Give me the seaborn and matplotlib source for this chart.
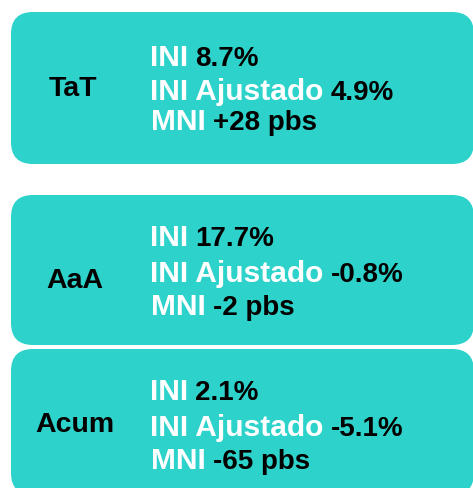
import matplotlib
matplotlib.use("Agg")
import matplotlib.pyplot as plt
from matplotlib.patches import FancyBboxPatch
import seaborn as sns

# datos de las tarjetas
periodos = ["TaT", "AaA", "Acum"]
ini = [8.7, 17.7, 2.1]
ini_ajustado = [4.9, -0.8, -5.1]
mni_pbs = [28, -2, -65]
etiquetas = ["INI", "INI Ajustado", "MNI"]

sns.set_theme(style="white")
plt.rcParams["font.family"] = ["Liberation Sans", "DejaVu Sans"]

turquesa = "#2DD3CA"

# cajas: (arriba, abajo) en pixeles
cajas = [(13, 165), (196, 346), (350, 496)]
# lineas base de cada fila y del periodo
bases = [(66.5, 99.5, 130), (246.5, 282, 315), (400.5, 435.5, 469)]
base_periodo = [96.5, 288.5, 432]
centro_periodo = [73, 75, 75]

fig = plt.figure(figsize=(4.73, 4.89), dpi=100)
ax = fig.add_axes([0, 0, 1, 1])
ax.set_xlim(0, 473)
ax.set_ylim(489, 0)
ax.axis("off")

for (y0, y1) in cajas:
    ax.add_patch(FancyBboxPatch((11, y0), 463, y1 - y0,
                                boxstyle="round,pad=0,rounding_size=22",
                                fc=turquesa, ec="none"))

fig.canvas.draw()
renderer = fig.canvas.get_renderer()

for i, periodo in enumerate(periodos):
    ax.text(centro_periodo[i], base_periodo[i], periodo, ha="center", va="baseline",
            fontsize=20.5, fontweight="bold", color="black")
    valores = [f"{ini[i]:.1f}%", f"{ini_ajustado[i]:.1f}%", f"{mni_pbs[i]:+d} pbs"]
    for j, (lab, val) in enumerate(zip(etiquetas, valores)):
        xl = 150 if j < 2 else 151
        t = ax.text(xl, bases[i][j], lab, ha="left", va="baseline",
                    fontsize=21.5, fontweight="bold", color="white")
        bb = t.get_window_extent(renderer)
        x_val = ax.transData.inverted().transform((bb.x1, 0))[0] + 7
        ax.text(x_val, bases[i][j], val, ha="left", va="baseline",
                fontsize=20, fontweight="bold", color="black")

fig.savefig("out.png", dpi=100)
